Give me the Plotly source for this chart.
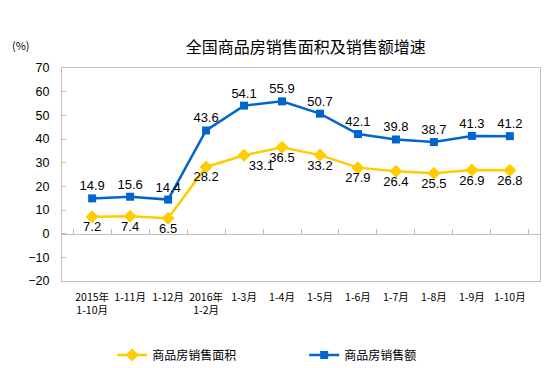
import plotly.graph_objects as go

categories = ["2015年<br>1-10月", "1-11月", "1-12月", "2016年<br>1-2月", "1-3月", "1-4月",
              "1-5月", "1-6月", "1-7月", "1-8月", "1-9月", "1-10月"]
area_growth = [7.2, 7.4, 6.5, 28.2, 33.1, 36.5, 33.2, 27.9, 26.4, 25.5, 26.9, 26.8]
sales_growth = [14.9, 15.6, 14.4, 43.6, 54.1, 55.9, 50.7, 42.1, 39.8, 38.7, 41.3, 41.2]
y_ticks = [-20, -10, 0, 10, 20, 30, 40, 50, 60, 70]

yellow = "#FFCC00"
blue = "#0066CC"
grey = "#BFBFBF"
label_font = dict(family="Liberation Sans, Arial", size=13, color="#000000")
area_label_pos = ["bottom center"] * 4 + ["bottom right"] + ["bottom center"] * 7

fig = go.Figure()
fig.add_trace(go.Scatter(
    x=categories, y=area_growth, name="商品房销售面积", mode="lines+markers",
    line=dict(color=yellow, width=2.5),
    marker=dict(symbol="diamond", size=10, color=yellow),
))
fig.add_trace(go.Scatter(
    x=categories, y=sales_growth, name="商品房销售额", mode="lines+markers",
    line=dict(color=blue, width=2.5),
    marker=dict(symbol="square", size=8, color=blue),
))
# data labels (transparent markers only set the label offset)
fig.add_trace(go.Scatter(
    x=categories, y=area_growth, mode="markers+text", text=[f"{v}" for v in area_growth],
    textposition=area_label_pos, textfont=label_font, showlegend=False, hoverinfo="skip",
    marker=dict(size=6, opacity=0),
))
fig.add_trace(go.Scatter(
    x=categories, y=sales_growth, mode="markers+text", text=[f"{v}" for v in sales_growth],
    textposition="top center", textfont=label_font, showlegend=False, hoverinfo="skip",
    marker=dict(size=6, opacity=0),
))
# invisible helper trace for the zero-line axis
fig.add_trace(go.Scatter(x=categories, y=[None] * len(categories), xaxis="x2",
                         showlegend=False, hoverinfo="skip", mode="lines"))

fig.update_layout(
    width=548, height=368,
    margin=dict(l=62, r=8, t=68, b=87, autoexpand=False),
    paper_bgcolor="white", plot_bgcolor="white",
    title=dict(text="全国商品房销售面积及销售额增速", x=0.558, xanchor="center",
               y=1 - 47 / 368, yanchor="middle", yref="container",
               font=dict(family="Noto Sans CJK SC", size=16, color="#000000")),
    xaxis=dict(type="category", showgrid=False, zeroline=False, automargin=False,
               showline=True, mirror=True, linecolor=grey, linewidth=1,
               ticks="", tickfont=dict(family="Noto Sans CJK SC", size=10.5, color="#000000"),
               ticklabelstandoff=6),
    xaxis2=dict(type="category", overlaying="x", anchor="free", position=20 / 90,
                showgrid=False, zeroline=False, showline=True, linecolor=grey,
                linewidth=1, ticks="inside", ticklen=5, tickcolor=grey, tickwidth=1,
                tickson="boundaries", showticklabels=False, side="bottom",
                matches="x", automargin=False),
    yaxis=dict(range=[-20, 70], tickvals=y_ticks, showgrid=False, zeroline=False,
               showline=True, mirror=True, linecolor=grey, linewidth=1, automargin=False,
               ticks="inside", ticklen=4, tickcolor=grey, ticklabelstandoff=9,
               tickfont=dict(family="Liberation Sans, Arial", size=12.5, color="#000000")),
    legend=dict(orientation="h", x=0.105, xanchor="left", y=1 - 355 / 368, yanchor="middle",
                yref="container",
                font=dict(family="Noto Sans CJK SC", size=12, color="#000000"),
                entrywidth=147, entrywidthmode="pixels"),
    annotations=[dict(text="(%)", xref="paper", yref="paper", x=-0.085, y=1.108,
                      showarrow=False, xanchor="center", yanchor="middle",
                      font=dict(family="Noto Sans CJK SC", size=11, color="#000000"))],
    showlegend=True,
)

fig.write_html("out.html", config={"displayModeBar": False},
               post_script="document.body.style.margin='0';document.body.style.padding='0';")
